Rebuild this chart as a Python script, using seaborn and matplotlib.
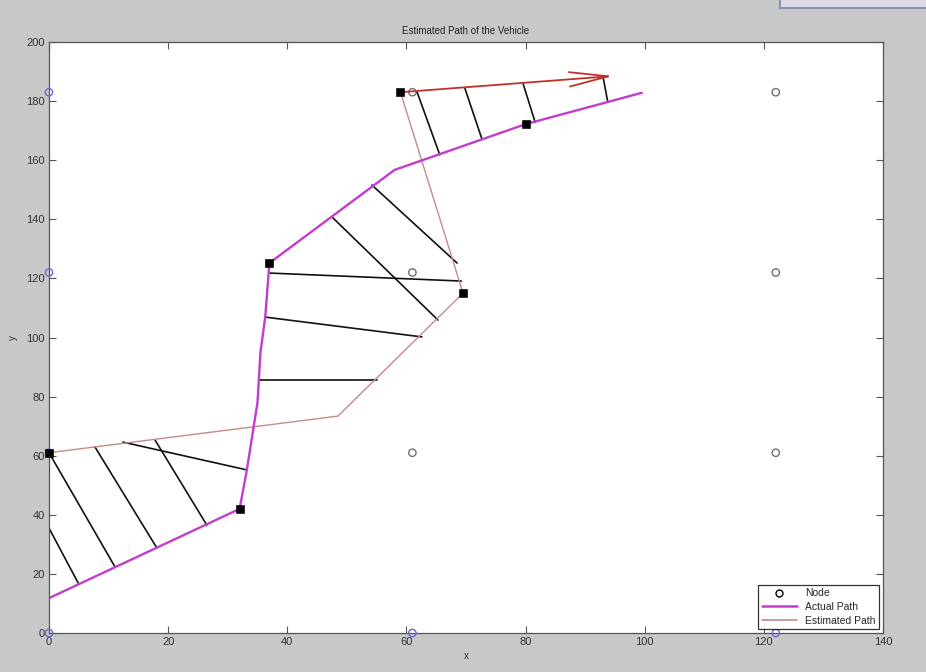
import matplotlib
matplotlib.use("Agg")
import matplotlib.pyplot as plt
from matplotlib.lines import Line2D
from matplotlib.patches import Rectangle
import seaborn as sns
import pandas as pd

sns.set_style("white")
plt.rcParams['font.family'] = ['Liberation Sans', 'DejaVu Sans']

# ---------------- data ----------------
node_x = [0, 0, 0, 0, 61, 61, 61, 61, 122, 122, 122, 122]
node_y = [0, 61, 122, 183, 0, 61, 122, 183, 0, 61, 122, 183]

actual_x = [0, 32, 33.2, 35, 35.5, 36.3, 37, 58, 80, 99.5]
actual_y = [11.8, 42, 55, 78, 95, 107, 125.2, 156.7, 172.2, 182.8]

est_x = [0, 0, 48.5, 69.5, 59]
est_y = [0, 61, 73.4, 115, 183]

arrow_start = (59, 183)
arrow_end = (94.7, 188.5)

square_x = [0, 32, 37, 69.5, 59, 80]
square_y = [61, 42, 125.2, 115, 183, 172.2]

conn_x0 = [0, 0, 7.7, 17.8, 12.4, 35.4, 36.3, 37.1, 47.5, 54.2, 61.8, 69.8, 79.6, 93.0]
conn_y0 = [35.5, 61, 63, 65.3, 64.6, 85.6, 106.9, 121.8, 140.8, 151.6, 183, 184.4, 185.8, 188.2]
conn_x1 = [4.9, 11.1, 18.1, 26.5, 33.2, 55.1, 62.6, 69.2, 65.3, 68.5, 65.6, 72.7, 81.6, 93.8]
conn_y1 = [16.9, 22.3, 28.8, 36.5, 55.2, 85.6, 100.2, 119.1, 105.9, 125.2, 161.8, 167, 172.9, 179.7]

x_ticks = [0, 20, 40, 60, 80, 100, 120, 140]
y_ticks = [0, 20, 40, 60, 80, 100, 120, 140, 160, 180, 200]

# ---------------- figure ----------------
BG = '#c8c8c8'
MAG = '#c43ccc'
EST = '#c48a8a'
EST_RED = '#d05a5a'
ARROW = '#c0302a'

fig = plt.figure(figsize=(9.26, 6.72), dpi=100, facecolor=BG)
ax = fig.add_axes([49 / 926, 39 / 672, 834 / 926, 591 / 672])
ax.set_facecolor('white')

# connector (error) lines
rows = []
for i, (a, b, c, d) in enumerate(zip(conn_x0, conn_y0, conn_x1, conn_y1)):
    rows.append({'seg': i, 'order': 0, 'x': a, 'y': b})
    rows.append({'seg': i, 'order': 1, 'x': c, 'y': d})
conn_df = pd.DataFrame(rows)
sns.lineplot(data=conn_df, x='x', y='y', units='seg', estimator=None, sort=False,
             color='#111111', lw=1.2, ax=ax, legend=False)

# estimated path
est_df = pd.DataFrame({'x': est_x, 'y': est_y})
sns.lineplot(data=est_df.iloc[1:], x='x', y='y', sort=False, estimator=None,
             color=EST, lw=1.0, ax=ax)
sns.lineplot(data=est_df.iloc[:2], x='x', y='y', sort=False, estimator=None,
             color=EST_RED, lw=1.2, ax=ax)

# arrow for final estimated step
ax.annotate('', xy=arrow_end, xytext=arrow_start,
            arrowprops=dict(arrowstyle='->,head_length=0.7,head_width=0.13',
                            color=ARROW, lw=1.3,
                            mutation_scale=40, shrinkA=0, shrinkB=0))

# actual path
act_df = pd.DataFrame({'x': actual_x, 'y': actual_y})
sns.lineplot(data=act_df, x='x', y='y', sort=False, estimator=None,
             color=MAG, lw=1.7, ax=ax)

# nodes
node_df = pd.DataFrame({'x': node_x, 'y': node_y})
edge = (node_df.x == 0) | (node_df.y == 0)
sns.scatterplot(data=node_df[~edge], x='x', y='y', marker='o', s=28,
                facecolor='none', edgecolor='#707070', linewidth=1.0, ax=ax, clip_on=False)
sns.scatterplot(data=node_df[edge], x='x', y='y', marker='o', s=28,
                facecolor='none', edgecolor='#6a6ad0', linewidth=1.0, ax=ax, clip_on=False, zorder=5)

# squares
sq_df = pd.DataFrame({'x': square_x, 'y': square_y})
sns.scatterplot(data=sq_df, x='x', y='y', marker='s', s=30, color='black',
                edgecolor='black', ax=ax, zorder=6, clip_on=False)

ax.set_xlim(0, 140)
ax.set_ylim(0, 200)
ax.set_xticks(x_ticks)
ax.set_yticks(y_ticks)
ax.set_xticklabels([str(t) for t in x_ticks])
ax.set_yticklabels([str(t) for t in y_ticks])
ax.tick_params(direction='in', length=5, width=0.8, colors='#555555',
               labelsize=8, labelcolor='#333333', top=True, right=True,
               bottom=True, left=True, pad=3)
for s in ax.spines.values():
    s.set_color('#555555')
    s.set_linewidth(0.9)

ax.set_title('Estimated Path of the Vehicle', fontsize=7, color='#222222', pad=6)
ax.set_xlabel('x', fontsize=7, color='#333333', labelpad=3)
ax.set_ylabel('y', fontsize=7, color='#333333', labelpad=6)

handles = [
    Line2D([], [], ls='none', marker='o', mfc='none', mec='black', ms=5),
    Line2D([], [], color=MAG, lw=1.8),
    Line2D([], [], color=EST, lw=1.2),
]
leg = ax.legend(handles, ['Node', 'Actual Path', 'Estimated Path'], loc='lower right',
                fontsize=7.5, frameon=True, fancybox=False, edgecolor='black',
                borderaxespad=0.35, handlelength=3.4, labelspacing=0.35,
                borderpad=0.35)
leg.get_frame().set_linewidth(0.9)

# window-edge artefact at top-right of screenshot
fig.add_artist(Rectangle((780 / 926, 664 / 672), 150 / 926, 12 / 672,
                         transform=fig.transFigure, facecolor='#dcdce4',
                         edgecolor='#8a92b8', lw=1.5, clip_on=False))

fig.savefig('out.png', dpi=100, facecolor=BG)
